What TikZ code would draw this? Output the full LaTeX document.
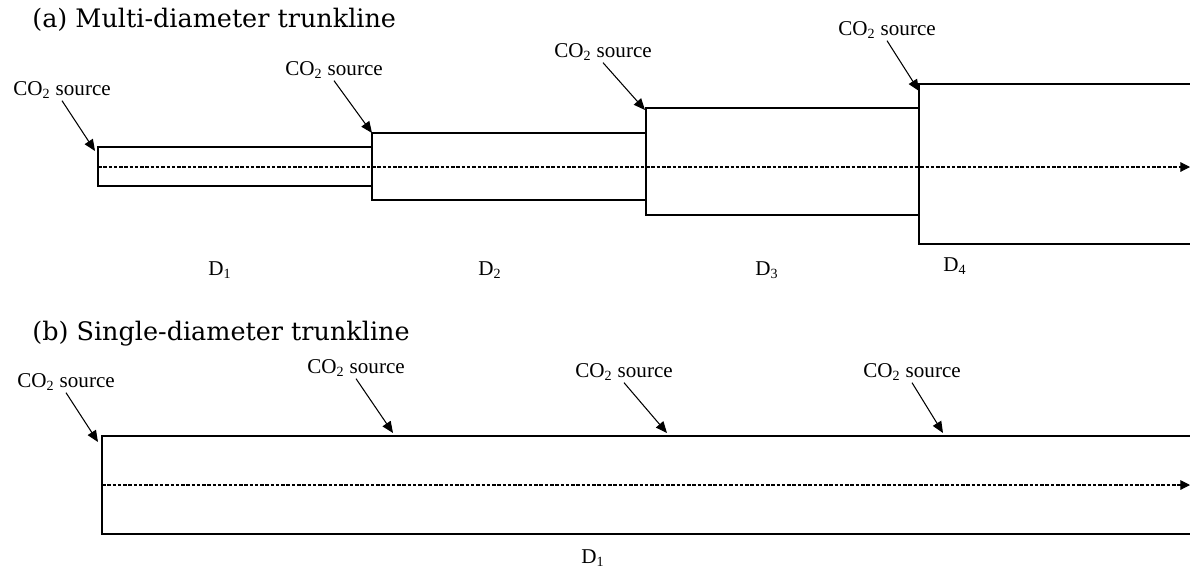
\documentclass[tikz,border=0pt]{standalone}
\usepackage{fontspec}
\setmainfont{Liberation Serif}
\newfontfamily\headfont{DejaVu Serif}
\usetikzlibrary{arrows.meta}

\tikzset{
  pipe/.style={line width=0.8pt},
  flow/.style={dash pattern=on 2pt off 1pt, line width=0.6pt, -{Triangle[length=5.5pt,width=5.5pt]}},
  feed/.style={line width=0.6pt, -{Triangle[length=6.5pt,width=5.5pt]}},
  src/.style={font=\fontsize{12}{14}\selectfont, inner sep=1pt},
  dlab/.style={font=\fontsize{12}{14}\selectfont, inner sep=1pt},
  head/.style={font=\headfont\fontsize{14.5}{16}\selectfont, anchor=west, inner sep=0pt}
}

\begin{document}
\begin{tikzpicture}[x=0.02cm, y=-0.02cm]
    \useasboundingbox (0,0) rectangle (1190,572);

    % (a) Pipe sections, growing downstream
    \node[head] (ta) at (32,20) {(a) Multi-diameter trunkline};
    \draw[pipe] (98,147) rectangle (372,186);
    \draw[pipe] (372,133) rectangle (646,200);
    \draw[pipe] (646,108) rectangle (919,215);
    \draw[pipe] (1190,84) -- (919,84) -- (919,244) -- (1190,244);
    \coordinate (fa0) at (98,167);
    \coordinate (fa1) at (1190,167);
    \draw[flow] (fa0) -- (fa1);

    \foreach \i/\lx/\ly/\px/\py in {1/62/90/95/151, 2/334/70/372/133, 3/603/52/645/110, 4/887/30/919/91}
    {
      \node[src] (sa\i) at (\lx,\ly) {CO\textsubscript{2} source};
      \coordinate (ea\i) at (\px,\py);
      \draw[feed] (sa\i.south) -- (ea\i);
    };

    \foreach \i/\dx/\dy in {1/220/270, 2/490/270, 3/767/270, 4/955/266}
    {
      \node[dlab] (da\i) at (\dx,\dy) {D\textsubscript{\i}};
    };

    % (b) One pipe all the way
    \node[head] (tb) at (32,334) {(b) Single-diameter trunkline};
    \draw[pipe] (1190,436) -- (102,436) -- (102,534) -- (1190,534);
    \coordinate (fb0) at (102,485);
    \coordinate (fb1) at (1190,485);
    \draw[flow] (fb0) -- (fb1);

    \foreach \i/\lx/\ly/\px/\py in {1/66/382/98/442, 2/356/368/393/433, 3/624/372/667/433, 4/912/372/943/433}
    {
      \node[src] (sb\i) at (\lx,\ly) {CO\textsubscript{2} source};
      \coordinate (eb\i) at (\px,\py);
      \draw[feed] (sb\i.south) -- (eb\i);
    };

    \node[dlab] (db1) at (593,558) {D\textsubscript{1}};

\end{tikzpicture}
\end{document}
